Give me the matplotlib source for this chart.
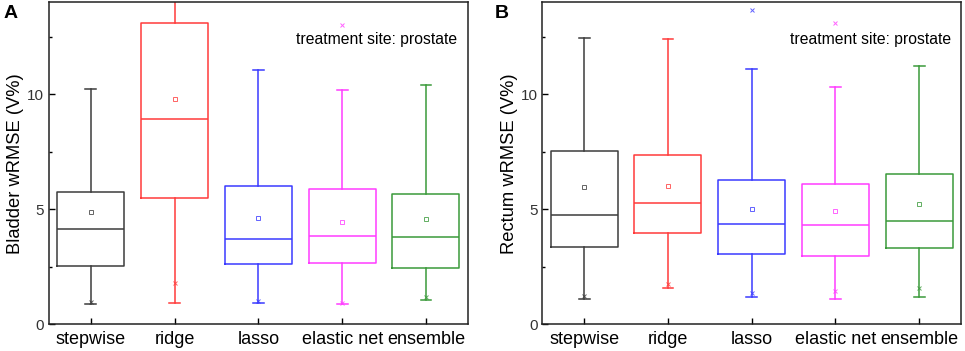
import matplotlib.pyplot as plt
import numpy as np

plt.rcParams['font.family'] = ['Liberation Sans', 'DejaVu Sans']

methods = ['stepwise', 'ridge', 'lasso', 'elastic net', 'ensemble']
colors = ['#3c3c3c', '#ff3b3b', '#3a3aff', '#ff3cff', '#3a9a3a']

# Panel A: bladder
bl_whislo = [0.88, 0.94, 0.93, 0.90, 1.06]
bl_q1 = [2.53, 5.48, 2.63, 2.66, 2.43]
bl_med = [4.14, 8.93, 3.72, 3.85, 3.78]
bl_q3 = [5.73, 13.10, 6.03, 5.88, 5.67]
bl_whishi = [10.22, 15.0, 11.04, 10.19, 10.38]
bl_mean = [4.88, 9.77, 4.63, 4.43, 4.56]
bl_xmarks = [[0.96], [1.79], [1.01], [0.91, 13.02], [1.20]]

# Panel B: rectum
re_whislo = [1.10, 1.56, 1.20, 1.09, 1.20]
re_q1 = [3.37, 3.95, 3.07, 2.97, 3.31]
re_med = [4.76, 5.28, 4.37, 4.33, 4.49]
re_q3 = [7.53, 7.34, 6.27, 6.11, 6.51]
re_whishi = [12.45, 12.39, 11.09, 10.32, 11.24]
re_mean = [5.96, 6.03, 4.99, 4.91, 5.21]
re_xmarks = [[1.24], [1.75], [1.37, 13.66], [1.46, 13.11], [1.58]]

fig = plt.figure(figsize=(9.65, 3.51), dpi=100)
axA = fig.add_axes([0.0508, 0.076, 0.434, 0.918])
axB = fig.add_axes([0.562, 0.076, 0.434, 0.918])


def draw_panel(ax, whislo, q1, med, q3, whishi, mean, xmarks, ylabel, letter, letter_x):
    for i in range(len(methods)):
        st = dict(whislo=whislo[i], q1=q1[i], med=med[i], q3=q3[i],
                  whishi=whishi[i], mean=mean[i], fliers=[])
        c = colors[i]
        ax.bxp([st], positions=[i + 1], widths=0.8, showmeans=True,
               showfliers=False,
               boxprops=dict(color=c, lw=1.1),
               medianprops=dict(color=c, lw=1.1),
               whiskerprops=dict(color=c, lw=1.1),
               capprops=dict(color=c, lw=1.1),
               capwidths=0.13,
               meanprops=dict(marker='s', markersize=3.2, markerfacecolor='none',
                              markeredgecolor=c, markeredgewidth=0.7, alpha=0.8))
        ax.plot([i + 1] * len(xmarks[i]), xmarks[i], ls='none', marker='x',
                ms=3.5, mew=0.7, color=c, alpha=0.8)
    ax.set_xlim(0.5, 5.5)
    ax.set_ylim(0, 14)
    ax.set_xticks(range(1, 6))
    ax.set_xticklabels(methods, fontsize=13)
    ax.set_yticks([0, 5, 10])
    ax.set_yticks([2.5, 7.5, 12.5], minor=True)
    ax.tick_params(axis='both', which='major', direction='in', length=4, labelsize=11, width=1)
    ax.tick_params(axis='x', which='major', labelsize=13, pad=5)
    ax.tick_params(axis='y', which='minor', direction='in', length=2.5, width=1)
    ax.tick_params(axis='y', which='major', labelcolor='#333333')
    ax.set_ylabel(ylabel, fontsize=13.2, labelpad=2)
    for s in ax.spines.values():
        s.set_linewidth(1.1)
        s.set_color('#222222')
    ax.text(0.975, 0.885, 'treatment site: prostate', transform=ax.transAxes,
            ha='right', va='center', fontsize=11.3)
    fig.text(letter_x, 0.985, letter, fontsize=14, fontweight='bold', va='top', ha='left')


draw_panel(axA, bl_whislo, bl_q1, bl_med, bl_q3, bl_whishi, bl_mean, bl_xmarks,
           'Bladder wRMSE (V%)', 'A', 0.004)
draw_panel(axB, re_whislo, re_q1, re_med, re_q3, re_whishi, re_mean, re_xmarks,
           'Rectum wRMSE (V%)', 'B', 0.513)

fig.savefig('out.png', dpi=100)
